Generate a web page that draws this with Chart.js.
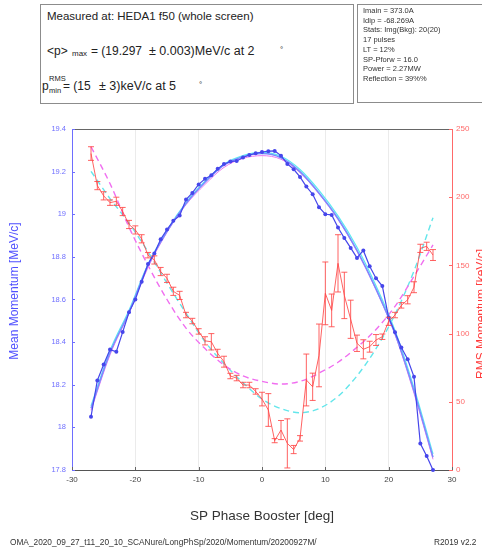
<!DOCTYPE html>
<html>
<head>
<meta charset="utf-8">
<title>Momentum scan</title>
<script src="https://cdn.jsdelivr.net/npm/chart.js@4.4.0/dist/chart.umd.min.js"></script>
<style>
  body { margin: 0; background: #fff; font-family: "Liberation Sans", Arial, sans-serif; }
  #wrap { position: relative; width: 482px; height: 552px; overflow: hidden; }
  #chart { position: absolute; left: 0; top: 0; }
  .box { position: absolute; border: 1px solid #8c8c8c; background: #fff; }
  .t { position: absolute; white-space: pre; color: #222; line-height: 1; }
  .info { position: absolute; left: 363px; top: 6px; font-size: 7.5px; line-height: 9.7px; color: #333; white-space: pre; }
</style>
</head>
<body>
<div id="wrap">
  <canvas id="chart" width="482" height="552"></canvas>

  <div class="box" style="left:40px;top:4px;width:312px;height:98px;"></div>
  <div class="t" style="left:47px;top:11px;font-size:11.5px;">Measured at: HEDA1 f50 (whole screen)</div>
  <div class="t" style="left:47px;top:45px;font-size:12px;">&lt;p&gt;</div>
  <div class="t" style="left:72px;top:50px;font-size:8px;">max</div>
  <div class="t" style="left:91px;top:45px;font-size:12px;">= (19.297</div>
  <div class="t" style="left:149px;top:45px;font-size:12.5px;">± 0.003)MeV/c at 2</div>
  <div class="t" style="left:280px;top:46px;font-size:8px;">°</div>
  <div class="t" style="left:42px;top:80px;font-size:12px;">p</div>
  <div class="t" style="left:49px;top:75px;font-size:7.5px;">RMS</div>
  <div class="t" style="left:49px;top:87px;font-size:7.5px;">min</div>
  <div class="t" style="left:63px;top:80px;font-size:12px;">= (15</div>
  <div class="t" style="left:99px;top:80px;font-size:12.5px;">± 3)keV/c at 5</div>
  <div class="t" style="left:199px;top:81px;font-size:8px;">°</div>

  <div class="box" style="left:357px;top:4px;width:140px;height:97px;"></div>
  <div class="info">Imain = 373.0A
Idip = -68.269A
Stats: Img(Bkg): 20(20)
17 pulses
LT = 12%
SP-Pforw = 16.0
Power = 2.27MW
Reflection = 39%%</div>

  <div class="t" style="left:10px;top:538px;font-size:8.3px;color:#333;">OMA_2020_09_27_t11_20_10_SCANure/LongPhSp/2020/Momentum/20200927M/</div>
  <div class="t" style="left:434px;top:538px;font-size:8.3px;color:#333;">R2019 v2.2</div>
</div>

<script>
// phase scan, one point per degree
const phase = [-27, -26, -25, -24, -23, -22, -21, -20, -19, -18, -17, -16, -15, -14, -13,
  -12, -11, -10, -9, -8, -7, -6, -5, -4, -3, -2, -1, 0, 1, 2, 3, 4, 5, 6, 7, 8, 9, 10,
  11, 12, 13, 14, 15, 16, 17, 18, 19, 20, 21, 22, 23, 24, 25, 26, 27];

// mean momentum [MeV/c]
const meanP = [18.05, 18.22, 18.295, 18.365, 18.355, 18.447, 18.54, 18.60, 18.683, 18.766,
  18.816, 18.883, 18.928, 18.969, 18.994, 19.069, 19.10, 19.14, 19.166, 19.183, 19.213,
  19.236, 19.247, 19.25, 19.266, 19.278, 19.286, 19.292, 19.296, 19.297, 19.275, 19.236,
  19.211, 19.175, 19.13, 19.094, 19.033, 19.0, 18.997, 18.938, 18.888, 18.842, 18.795,
  18.83, 18.756, 18.70, 18.663, 18.515, 18.446, 18.375, 18.32, 18.237, 17.924, 17.866, 17.80];

// RMS momentum [keV/c] and its error
const rmsP = [232, 208.5, 201, 196, 197, 189.5, 180, 176, 169.5, 157.5, 154, 145.5, 140.5,
  131, 128, 113.6, 109.2, 101.6, 94.7, 94, 85.5, 79.4, 68.9, 67.4, 62.3, 62.3, 57.6, 52,
  44, 21.5, 29.3, 19.5, 15, 23.2, 66, 61, 84, 129.5, 117, 151.5, 128, 110.5, 92.9, 88.5,
  90.4, 95.3, 97.7, 109, 113.6, 120.7, 124.8, 134, 162.5, 164, 157.6];
const rmsErr = [5, 3, 3, 2, 3, 3, 3, 3, 3, 2, 3, 3, 3, 3, 3, 2, 2, 2, 3, 6, 3, 4, 2, 2, 2, 2,
  2, 5, 12, 1.5, 7, 18, 3, 2, 19, 10, 23, 23, 12, 21, 17, 14, 6, 7, 4, 4, 2, 3, 2, 2, 3,
  4, 3, 3, 4];

// fit curves, sampled every 3 degrees
const fitPhase = [-27, -24, -21, -18, -15, -12, -9, -6, -3, 0, 3, 6, 9, 12, 15, 18, 21, 24, 27];
const meanFitA = [18.09, 18.35, 18.54, 18.76, 18.92, 19.05, 19.15, 19.23, 19.27, 19.285,
  19.265, 19.20, 19.10, 18.98, 18.83, 18.65, 18.44, 18.17, 17.86];
const meanFitB = [18.10, 18.36, 18.55, 18.765, 18.925, 19.055, 19.155, 19.235, 19.275, 19.29,
  19.272, 19.21, 19.112, 18.992, 18.845, 18.665, 18.455, 18.185, 17.875];
const meanFitC = [18.08, 18.34, 18.535, 18.75, 18.915, 19.045, 19.14, 19.22, 19.262, 19.275,
  19.258, 19.195, 19.095, 18.975, 18.825, 18.645, 18.435, 18.16, 17.85];
const rmsFitA = [237, 210, 178, 150, 125, 104, 89, 77, 69, 65, 63, 65, 71, 79, 90, 103, 120, 142, 165];
const rmsFitB = [219, 199, 181, 160, 137, 115, 94, 78, 64, 52, 45, 42, 45, 54, 69, 89, 114, 146, 185];

const leftTicks = ['17.8', '18', '18.2', '18.4', '18.6', '18.8', '19', '19.2', '19.4'];

const BLUE = 'rgb(70,70,235)';
const BLUE_AX = 'rgb(110,110,255)';
const RED = 'rgba(255,70,70,0.85)';
const RED_AX = 'rgb(255,105,105)';
const FONT = '"Liberation Sans", Arial, sans-serif';

function pts(xs, ys) {
  return xs.map((x, i) => ({ x: x, y: ys[i] }));
}

// error bars, frame line, inward ticks and vertical axis titles
const extras = {
  id: 'extras',
  afterDatasetsDraw(chart) {
    const { ctx, scales } = chart;
    const sx = scales.x, sy = scales.y1;
    ctx.save();
    ctx.strokeStyle = RED;
    ctx.lineWidth = 1;
    rmsP.forEach((v, i) => {
      const x = sx.getPixelForValue(phase[i]);
      const y0 = sy.getPixelForValue(v - rmsErr[i]);
      const y1 = sy.getPixelForValue(v + rmsErr[i]);
      ctx.beginPath();
      ctx.moveTo(x, y0); ctx.lineTo(x, y1);
      ctx.moveTo(x - 3, y0); ctx.lineTo(x + 3, y0);
      ctx.moveTo(x - 3, y1); ctx.lineTo(x + 3, y1);
      ctx.stroke();
    });
    ctx.restore();
  },
  afterDraw(chart) {
    const { ctx, chartArea: a, scales } = chart;
    ctx.save();
    ctx.lineWidth = 1;
    ctx.strokeStyle = '#666';
    ctx.beginPath();
    ctx.moveTo(a.left, a.top + 0.5);
    ctx.lineTo(a.right, a.top + 0.5);
    ctx.stroke();

    ctx.strokeStyle = BLUE_AX;
    scales.y.ticks.forEach(t => {
      const y = Math.round(scales.y.getPixelForValue(t.value)) + 0.5;
      ctx.beginPath(); ctx.moveTo(a.left, y); ctx.lineTo(a.left + 3, y); ctx.stroke();
    });
    ctx.strokeStyle = RED_AX;
    scales.y1.ticks.forEach(t => {
      const y = Math.round(scales.y1.getPixelForValue(t.value)) + 0.5;
      ctx.beginPath(); ctx.moveTo(a.right, y); ctx.lineTo(a.right - 3, y); ctx.stroke();
    });
    ctx.strokeStyle = '#666';
    scales.x.ticks.forEach(t => {
      const x = Math.round(scales.x.getPixelForValue(t.value)) + 0.5;
      ctx.beginPath(); ctx.moveTo(x, a.bottom); ctx.lineTo(x, a.bottom - 3); ctx.stroke();
    });

    ctx.font = '12px ' + FONT;
    ctx.textAlign = 'center';
    ctx.textBaseline = 'middle';
    ctx.fillStyle = 'rgb(80,80,255)';
    ctx.translate(15, 291);
    ctx.rotate(-Math.PI / 2);
    ctx.fillText('Mean Momentum [MeV/c]', 0, 0);
    ctx.setTransform(1, 0, 0, 1, 0, 0);
    ctx.fillStyle = 'rgb(255,60,60)';
    ctx.translate(482, 314);
    ctx.rotate(-Math.PI / 2);
    ctx.fillText('RMS Momentum [keV/c]', 0, 0);
    ctx.restore();
  }
};

new Chart(document.getElementById('chart'), {
  type: 'line',
  data: {
    datasets: [
      {
        data: pts(phase, meanP), yAxisID: 'y', borderColor: BLUE, backgroundColor: BLUE,
        borderWidth: 1.2, pointRadius: 2, pointBorderWidth: 0, clip: false
      },
      {
        data: pts(phase, rmsP), yAxisID: 'y1', borderColor: RED, borderWidth: 1,
        pointRadius: 0
      },
      {
        data: pts(fitPhase, meanFitA), yAxisID: 'y', borderColor: 'rgb(120,140,255)',
        borderWidth: 1.5, pointRadius: 0, cubicInterpolationMode: 'monotone'
      },
      {
        data: pts(fitPhase, meanFitB), yAxisID: 'y', borderColor: 'rgb(90,235,240)',
        borderWidth: 1.2, pointRadius: 0, cubicInterpolationMode: 'monotone'
      },
      {
        data: pts(fitPhase, meanFitC), yAxisID: 'y', borderColor: 'rgb(235,120,240)',
        borderWidth: 1, pointRadius: 0, cubicInterpolationMode: 'monotone'
      },
      {
        data: pts(fitPhase, rmsFitA), yAxisID: 'y1', borderColor: 'rgb(240,110,240)',
        borderWidth: 1.4, borderDash: [6, 4], pointRadius: 0, cubicInterpolationMode: 'monotone'
      },
      {
        data: pts(fitPhase, rmsFitB), yAxisID: 'y1', borderColor: 'rgb(100,230,235)',
        borderWidth: 1.4, borderDash: [6, 4], pointRadius: 0, cubicInterpolationMode: 'monotone'
      }
    ]
  },
  options: {
    responsive: false,
    animation: false,
    devicePixelRatio: 1,
    layout: { padding: { top: 129, left: 0, right: 0, bottom: 0 } },
    plugins: { legend: { display: false }, tooltip: { enabled: false } },
    scales: {
      x: {
        type: 'linear', min: -30, max: 30,
        afterFit: s => { s.height = 82; },
        ticks: { stepSize: 10, color: '#444', padding: 5, font: { family: FONT, size: 8 } },
        grid: { color: 'rgba(0,0,0,0.08)', drawTicks: false },
        border: { color: '#555' },
        title: {
          display: true, text: 'SP Phase Booster [deg]', color: '#333',
          font: { family: FONT, size: 13.5 }, padding: { top: 0, bottom: 28 }
        }
      },
      y: {
        position: 'left', min: 17.8, max: 19.4,
        afterFit: s => { s.width = 72; },
        ticks: {
          stepSize: 0.2, color: BLUE_AX, padding: 6, font: { family: FONT, size: 7.5 },
          callback: (v, i) => leftTicks[i]
        },
        grid: { display: false, drawTicks: false },
        border: { color: BLUE_AX }
      },
      y1: {
        position: 'right', min: 0, max: 250,
        afterFit: s => { s.width = 30; },
        ticks: { stepSize: 50, color: RED_AX, padding: 4, font: { family: FONT, size: 8 } },
        grid: { display: false, drawTicks: false },
        border: { color: RED_AX }
      }
    }
  },
  plugins: [extras]
});
</script>
</body>
</html>
